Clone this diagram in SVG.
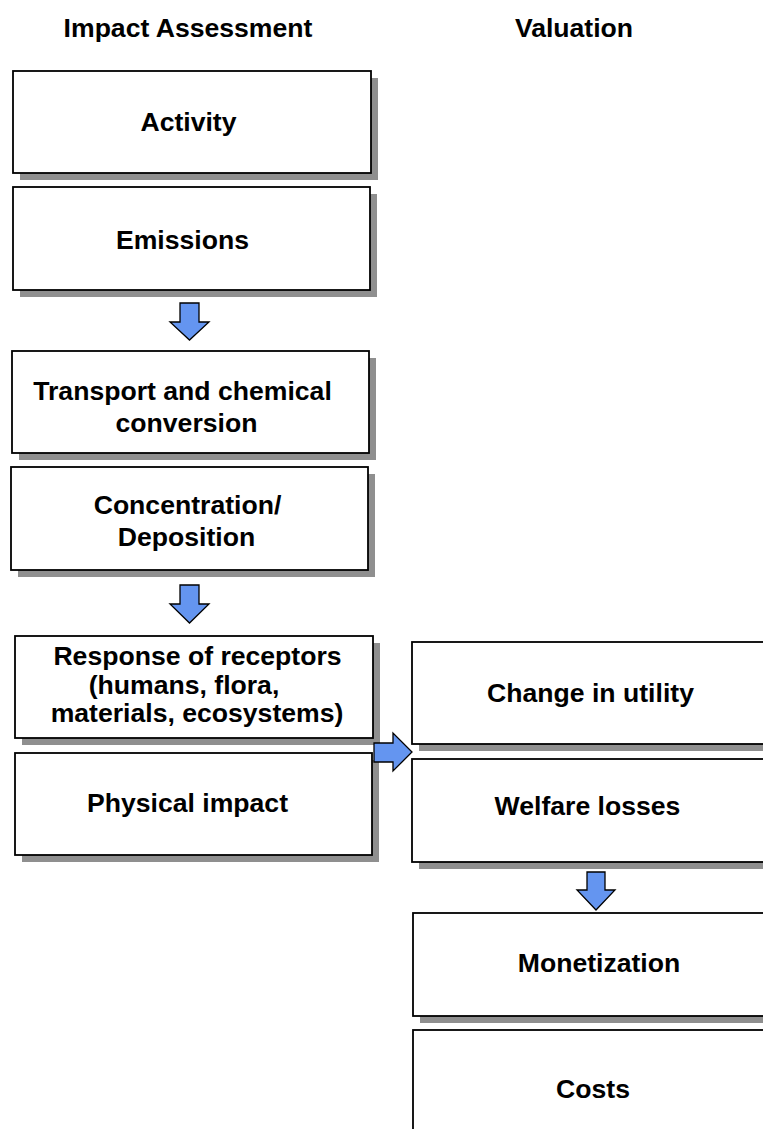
<svg xmlns="http://www.w3.org/2000/svg" width="763" height="1129" viewBox="0 0 763 1129">
<style>
.sh{fill:#8f8f8f}
.bx{fill:#fff;stroke:#000;stroke-width:1.8}
.t{font-family:"Liberation Sans",Arial,sans-serif;font-weight:bold;font-size:26.6px;fill:#000;text-anchor:middle}
.ar{fill:#6495F0;stroke:#000;stroke-width:1.3;stroke-linejoin:miter}
</style>
<rect width="763" height="1129" fill="#fff"/>
<g id="headers">
<text class="t" x="188" y="37">Impact Assessment</text>
<text class="t" x="574" y="37">Valuation</text>
</g>
<g id="activity">
<rect class="sh" x="20" y="78" width="358" height="102"/>
<rect class="bx" x="13" y="71" width="358" height="102"/>
<text class="t" x="188.5" y="131">Activity</text>
</g>
<g id="emissions">
<rect class="sh" x="20" y="194" width="357" height="103"/>
<rect class="bx" x="13" y="187" width="357" height="103"/>
<text class="t" x="182.5" y="249">Emissions</text>
</g>
<g id="transport">
<rect class="sh" x="19" y="358" width="357" height="102"/>
<rect class="bx" x="12" y="351" width="357" height="102"/>
<text class="t" x="182.5" y="400">Transport and chemical</text>
<text class="t" x="186.5" y="432">conversion</text>
</g>
<g id="concentration">
<rect class="sh" x="18" y="474" width="357" height="103"/>
<rect class="bx" x="11" y="467" width="357" height="103"/>
<text class="t" x="187.5" y="514">Concentration/</text>
<text class="t" x="186.5" y="546">Deposition</text>
</g>
<g id="response">
<rect class="sh" x="22" y="643" width="358" height="102"/>
<rect class="bx" x="15" y="636" width="358" height="102"/>
<text class="t" x="197.5" y="665">Response of receptors</text>
<text class="t" x="184" y="694">(humans, flora,</text>
<text class="t" x="197" y="722">materials, ecosystems)</text>
</g>
<g id="physical">
<rect class="sh" x="22" y="760" width="357" height="102"/>
<rect class="bx" x="15" y="753" width="357" height="102"/>
<text class="t" x="187.5" y="812">Physical impact</text>
</g>
<g id="change">
<rect class="sh" x="419" y="649" width="356" height="102"/>
<rect class="bx" x="412" y="642" width="356" height="102"/>
<text class="t" x="590.5" y="702">Change in utility</text>
</g>
<g id="welfare">
<rect class="sh" x="419" y="766" width="356" height="103"/>
<rect class="bx" x="412" y="759" width="356" height="103"/>
<text class="t" x="587.5" y="815">Welfare losses</text>
</g>
<g id="monetization">
<rect class="sh" x="420" y="920" width="356" height="103"/>
<rect class="bx" x="413" y="913" width="356" height="103"/>
<text class="t" x="599" y="972">Monetization</text>
</g>
<g id="costs">
<rect class="sh" x="420" y="1037" width="356" height="103"/>
<rect class="bx" x="413" y="1030" width="356" height="103"/>
<text class="t" x="593" y="1098">Costs</text>
</g>
<g id="connectors">
<path class="ar" d="M180,303 H199 V322 H209 L189.5,340 L170,322 H180 Z"/>
<path class="ar" d="M180,585 H199 V604 H209 L189.5,623 L170,604 H180 Z"/>
<path class="ar" d="M374,743 H393 V733 L412,752 L393,771 V762 H374 Z"/>
<path class="ar" d="M587,872 H605 V890 H615 L596,910 L577,890 H587 Z"/>
</g>
</svg>
